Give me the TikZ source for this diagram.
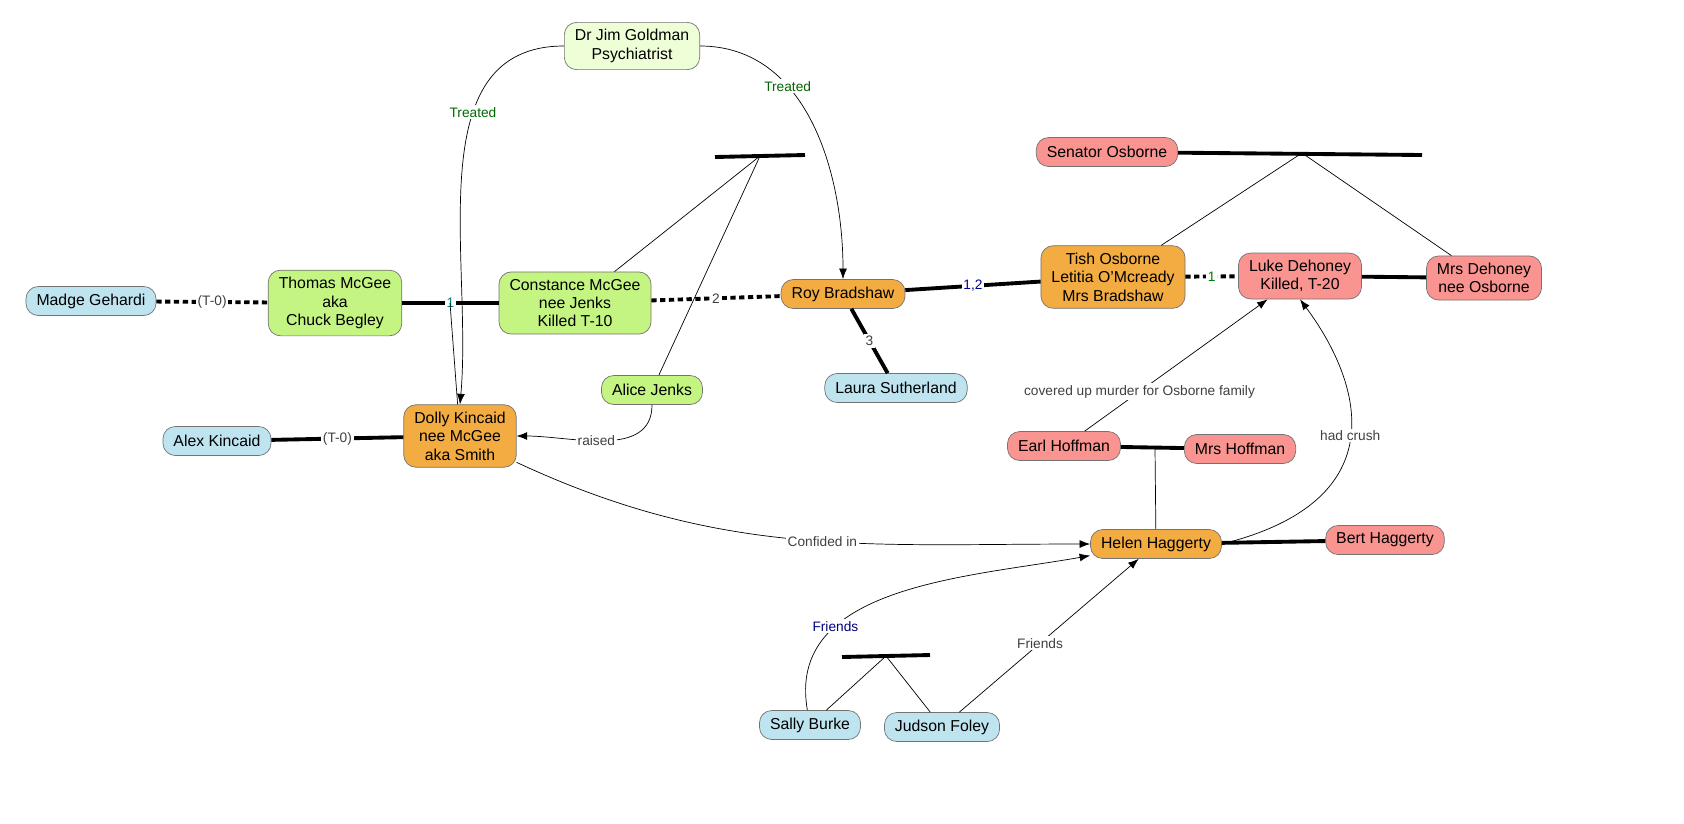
\documentclass[tikz,border=0pt]{standalone}
\usepackage{fontspec}
\setmainfont{Liberation Sans}
\usetikzlibrary{arrows.meta}
\definecolor{blu}{HTML}{BEE4F0}
\definecolor{grn}{HTML}{C4F482}
\definecolor{pale}{HTML}{EEFFD8}
\definecolor{org}{HTML}{F2AC42}
\definecolor{rd}{HTML}{F99490}
\begin{document}
\begin{tikzpicture}[x=0.02cm, y=-0.02cm,
	person/.style = {draw=black!55, rounded corners=7pt, align=center, inner xsep=6pt, inner ysep=4pt, minimum height=0.58cm, font=\fontsize{9}{10.5}\selectfont},
	bond/.style = {line width=2.2pt},
	affair/.style = {line width=2.2pt, dash pattern=on 3pt off 2pt},
	rel/.style = {-{Latex[length=6pt]}, thin},
	lbl/.style = {fill=white, inner sep=1pt, font=\fontsize{7.8}{9}\selectfont, text=black!75}]
	\useasboundingbox (0,0) rectangle (1684,823);
	% people
	\node[person, fill=pale] (gold) at (632,46) {Dr Jim Goldman\\Psychiatrist};
	\node[person, fill=blu] (madge) at (91,301) {Madge Gehardi};
	\node[person, fill=grn] (thomas) at (335,303) {Thomas McGee\\aka\\Chuck Begley};
	\node[person, fill=grn] (const) at (575,303) {Constance McGee\\nee Jenks\\Killed T-10};
	\node[person, fill=org] (roy) at (843,294) {Roy Bradshaw};
	\node[person, fill=org] (tish) at (1113,277) {Tish Osborne\\Letitia O'Mcready\\Mrs Bradshaw};
	\node[person, fill=rd] (luke) at (1300,276) {Luke Dehoney\\Killed, T-20};
	\node[person, fill=rd] (mrsd) at (1484,278) {Mrs Dehoney\\nee Osborne};
	\node[person, fill=rd] (sen) at (1107,152) {Senator Osborne};
	\node[person, fill=blu] (laura) at (896,388) {Laura Sutherland};
	\node[person, fill=grn] (alice) at (652,390) {Alice Jenks};
	\node[person, fill=blu] (alex) at (217,441) {Alex Kincaid};
	\node[person, fill=org] (dolly) at (460,436) {Dolly Kincaid\\nee McGee\\aka Smith};
	\node[person, fill=rd] (earl) at (1064,446) {Earl Hoffman};
	\node[person, fill=rd] (mrsh) at (1240,449) {Mrs Hoffman};
	\node[person, fill=org] (helen) at (1156,544) {Helen Haggerty};
	\node[person, fill=rd] (bert) at (1385,540) {Bert Haggerty};
	\node[person, fill=blu] (sally) at (810,725) {Sally Burke};
	\node[person, fill=blu] (judson) at (942,727) {Judson Foley};
	% family bars
	\coordinate (b1l) at (715,157); \coordinate (b1r) at (805,155); \coordinate (b1) at (760,156);
	\coordinate (b2r) at (1422,155); \coordinate (b2) at (1302,153);
	\coordinate (b3l) at (842,657); \coordinate (b3r) at (930,655); \coordinate (b3) at (886,656);
	\coordinate (tc) at (450,303); \coordinate (eh) at (1155,448);
	\draw[bond] (b1l) -- (b1r);
	\draw[bond] (sen) -- (b2r);
	\draw[bond] (b3l) -- (b3r);
	\draw (const) -- (b1); \draw (alice) -- (b1);
	\draw (tish) -- (b2); \draw (mrsd) -- (b2);
	\draw (sally) -- (b3); \draw (judson) -- (b3);
	% couples
	\draw[affair] (madge) -- node[lbl] {(T-0)} (thomas);
	\draw[bond] (thomas) -- node[lbl, text=teal] {1} (const);
	\draw (tc) -- (dolly);
	\draw[affair] (const) -- node[lbl] {2} (roy);
	\draw[bond] (roy) -- node[lbl, text=blue!60!black] {1,2} (tish);
	\draw[bond] (roy) -- node[lbl] {3} (laura);
	\draw[affair] (tish) -- node[lbl, text=green!50!black] {1} (luke);
	\draw[bond] (luke) -- (mrsd);
	\draw[bond] (alex) -- node[lbl] {(T-0)} (dolly);
	\draw[bond] (earl) -- (mrsh);
	\draw (eh) -- (helen);
	\draw[bond] (helen) -- (bert);
	% relations
	\draw[rel] (alice.south) to[out=-90, in=0] node[lbl, pos=0.55] {raised} (dolly.east);
	\draw[rel] (gold.west) to[out=180, in=85] node[lbl, pos=0.35, text=green!40!black] {Treated} (dolly.north);
	\draw[rel] (gold.east) to[out=0, in=90] node[lbl, pos=0.35, text=green!40!black] {Treated} (roy.north);
	\draw[rel] (dolly) to[out=-25, in=180] node[lbl, pos=0.55] {Confided in} (helen.west);
	\draw[rel] (earl) -- node[lbl, pos=0.3] {covered up murder for Osborne family} (luke);
	\draw[rel] (helen.east) .. controls (1400,500) and (1360,380) .. node[lbl, pos=0.5] {had crush} (luke.south);
	\draw[rel] (sally) to[out=100, in=190] node[lbl, pos=0.3, text=blue!50!black] {Friends} (helen);
	\draw[rel] (judson) -- node[lbl, pos=0.45] {Friends} (helen);
\end{tikzpicture}
\end{document}
